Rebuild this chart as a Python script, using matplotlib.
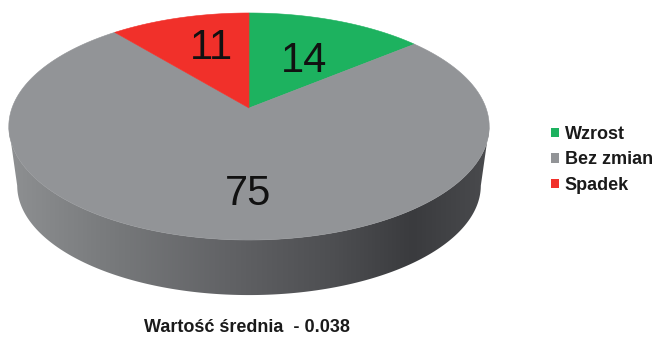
import numpy as np
import matplotlib
matplotlib.use("Agg")
import matplotlib.pyplot as plt
from matplotlib.patches import Polygon, Patch
from matplotlib.colors import LinearSegmentedColormap

categories = ["Wzrost", "Bez zmian", "Spadek"]
values = [14, 75, 11]
colors = ["#1db25f", "#929497", "#f1302a"]
caption = "Wartość średnia  - 0.038"

plt.rcParams["font.family"] = ["Liberation Sans", "DejaVu Sans"]
fig = plt.figure(figsize=(6.55, 3.4), dpi=100)
ax = fig.add_axes([0, 0, 1, 1])
ax.set_xlim(0, 655)
ax.set_ylim(340, 0)
ax.axis("off")

# perspective projection of the unit disc to the page
CX, AY, R, B, C = 249.0, 108.0, 237.0, -92.9, 0.163

def project(u, v):
    w = 1 + C * v
    return CX + R * u / w, (AY + B * v) / w

def rim(theta):
    """theta clockwise from the top of the pie"""
    return project(np.sin(theta), np.cos(theta))

# side wall
t = np.linspace(0, 2 * np.pi, 721)
xt, yt = rim(t)
xb = CX + (xt - CX) * 0.965
yb = 127 + (yt - 127) * 0.965 + 59
il, ir = np.argmin(xt), np.argmax(xt)
idx = np.arange(ir, il + 1)
jl, jr = np.argmin(xb), np.argmax(xb)
jdx = np.arange(jr, jl + 1)
side = np.column_stack([np.r_[xt[idx], xb[jdx][::-1]], np.r_[yt[idx], yb[jdx][::-1]]])
poly = Polygon(side, closed=True, fc="none", ec="none")
ax.add_patch(poly)
cmap = LinearSegmentedColormap.from_list("wall", [
    (0.0, "#8e9092"), (0.22, "#77797b"), (0.45, "#626366"),
    (0.68, "#4d4e51"), (0.84, "#3a3b3e"), (1.0, "#4a4b4e")])
grad = np.linspace(0, 1, 512)[None, :]
im = ax.imshow(grad, cmap=cmap, extent=[8, 490, 300, 100], aspect="auto", zorder=1)
im.set_clip_path(poly)
ax.set_xlim(0, 655)
ax.set_ylim(340, 0)

# top face wedges
edges = np.cumsum([0] + values) / sum(values) * 2 * np.pi
for i, col in enumerate(colors):
    th = np.linspace(edges[i], edges[i + 1], 200)
    x, y = rim(th)
    ax.add_patch(Polygon(np.column_stack([np.r_[CX, x], np.r_[AY, y]]),
                         closed=True, fc=col, ec=col, lw=0.4, zorder=2))

# value labels
label_xy = [(304, 61), (248, 194), (211, 48)]
for (lx, ly), v in zip(label_xy, values):
    ax.text(lx, ly, str(v), ha="center", va="center", fontsize=30,
            color="#111111", zorder=3)

handles = [Patch(fc=c, ec="none", label=n) for c, n in zip(colors, categories)]
leg = fig.legend(handles=handles, loc="upper left", bbox_to_anchor=(551 / 655, 1 - 126 / 340),
                 frameon=False, borderpad=0, borderaxespad=0, handlelength=0.44,
                 handleheight=0.44, handletextpad=0.33, labelspacing=0.47,
                 prop={"weight": "bold", "size": 13})
for t_ in leg.get_texts():
    t_.set_color("#1a1a1a")

ax.text(247, 328, caption, ha="center", va="center", fontsize=13,
        fontweight="bold", color="#1a1a1a")

fig.savefig("out.png", dpi=100)
